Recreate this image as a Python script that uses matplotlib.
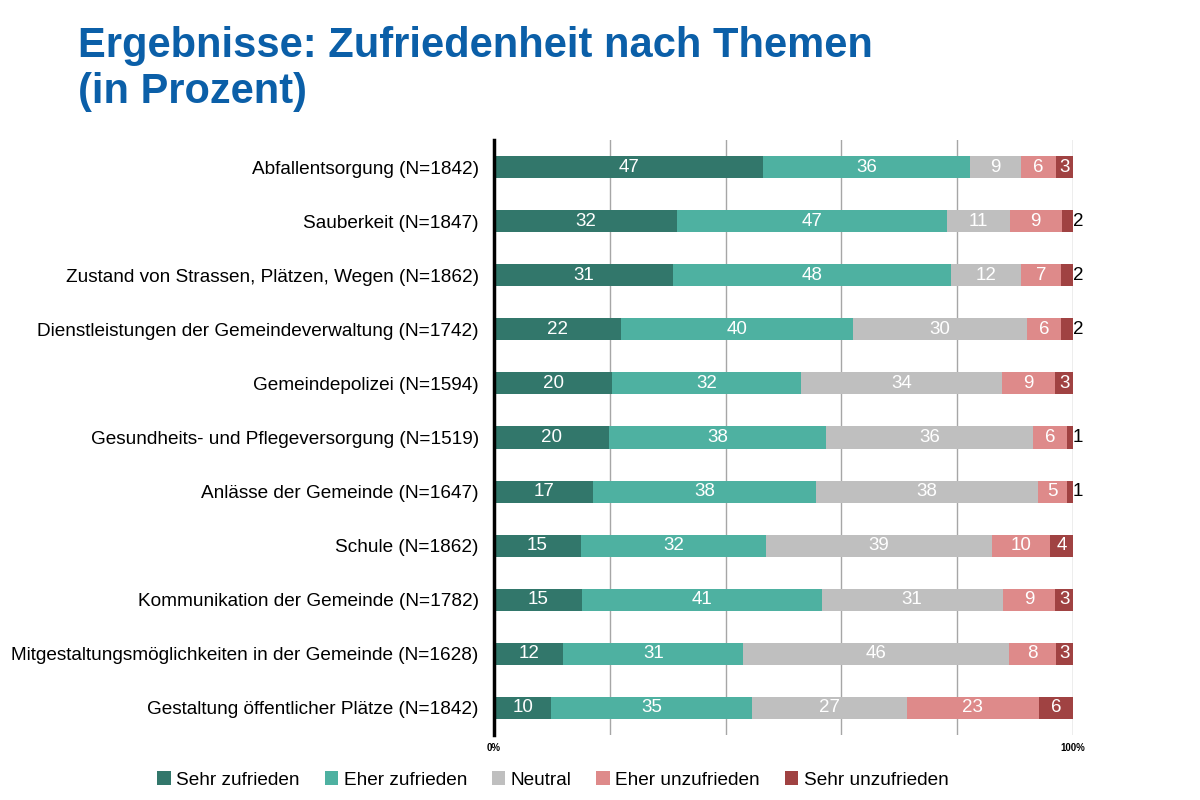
import matplotlib
matplotlib.use("Agg")
import matplotlib.pyplot as plt
from matplotlib.patches import Patch
import numpy as np

plt.rcParams['font.family'] = ['Liberation Sans', 'DejaVu Sans']

categories = [
    "Abfallentsorgung (N=1842)",
    "Sauberkeit (N=1847)",
    "Zustand von Strassen, Plätzen, Wegen (N=1862)",
    "Dienstleistungen der Gemeindeverwaltung (N=1742)",
    "Gemeindepolizei (N=1594)",
    "Gesundheits- und Pflegeversorgung (N=1519)",
    "Anlässe der Gemeinde (N=1647)",
    "Schule (N=1862)",
    "Kommunikation der Gemeinde (N=1782)",
    "Mitgestaltungsmöglichkeiten in der Gemeinde (N=1628)",
    "Gestaltung öffentlicher Plätze (N=1842)",
]
series_names = ["Sehr zufrieden", "Eher zufrieden", "Neutral", "Eher unzufrieden", "Sehr unzufrieden"]
sehr_zufrieden   = [47, 32, 31, 22, 20, 20, 17, 15, 15, 12, 10]
eher_zufrieden   = [36, 47, 48, 40, 32, 38, 38, 32, 41, 31, 35]
neutral          = [9, 11, 12, 30, 34, 36, 38, 39, 31, 46, 27]
eher_unzufrieden = [6, 9, 7, 6, 9, 6, 5, 10, 9, 8, 23]
sehr_unzufrieden = [3, 2, 2, 2, 3, 1, 1, 4, 3, 3, 6]
colors = ["#32776B", "#4EB1A1", "#BFBFBF", "#DE8A8A", "#A04242"]
x_tick_labels = ["0%", "", "", "", "", "100%"]

data = np.array([sehr_zufrieden, eher_zufrieden, neutral, eher_unzufrieden, sehr_unzufrieden], dtype=float)
totals = data.sum(axis=0)
pct = data / totals * 100

fig = plt.figure(figsize=(12, 8), dpi=100)
ax = fig.add_axes([494/1200, 1-735/800, 579/1200, 595/800])

y = np.arange(len(categories))
left = np.zeros(len(categories))
for i, name in enumerate(series_names):
    ax.barh(y, pct[i], left=left, height=0.41, color=colors[i], label=name, zorder=3)
    for j in range(len(categories)):
        v = data[i, j]
        cx = left[j] + pct[i, j] / 2
        if v <= 2 and i == len(series_names) - 1:
            ax.text(100.0, y[j], f"{int(v)}", ha='left', va='center', color='black', fontsize=13.5, zorder=4)
        else:
            ax.text(cx, y[j], f"{int(v)}", ha='center', va='center', color='white', fontsize=13.5, zorder=4)
    left += pct[i]

ax.set_xlim(0, 100)
ax.set_ylim(len(categories) - 0.5, -0.5)
ax.set_yticks(y)
ax.set_yticklabels(categories, fontsize=13.7)
ax.set_xticks([0, 20, 40, 60, 80, 100])
ax.set_xticklabels(x_tick_labels, fontsize=7, fontweight='bold')
ax.tick_params(axis='both', length=0)
ax.tick_params(axis='y', pad=11)
ax.tick_params(axis='x', pad=6)
ax.grid(axis='x', color='#A6A6A6', linewidth=1, zorder=0)
for s in ['top', 'right', 'bottom']:
    ax.spines[s].set_visible(False)
ax.spines['left'].set_linewidth(2.5)
ax.spines['left'].set_color('black')
ax.spines['left'].set_zorder(5)

handles = [Patch(facecolor=c, edgecolor='none') for c in colors]
fig.legend(handles, series_names, loc='center', bbox_to_anchor=(553/1200, 1-780/800), ncol=5,
           frameon=False, fontsize=13.7, handlelength=0.7, handleheight=0.7, handletextpad=0.3,
           columnspacing=1.3)

fig.text(78/1200, 1-69/800, "Ergebnisse: Zufriedenheit nach Themen\n(in Prozent)", fontsize=30,
         fontweight='bold', color='#0B5FA8', ha='left', va='center', linespacing=1.22)

fig.savefig("out.png", dpi=100)
